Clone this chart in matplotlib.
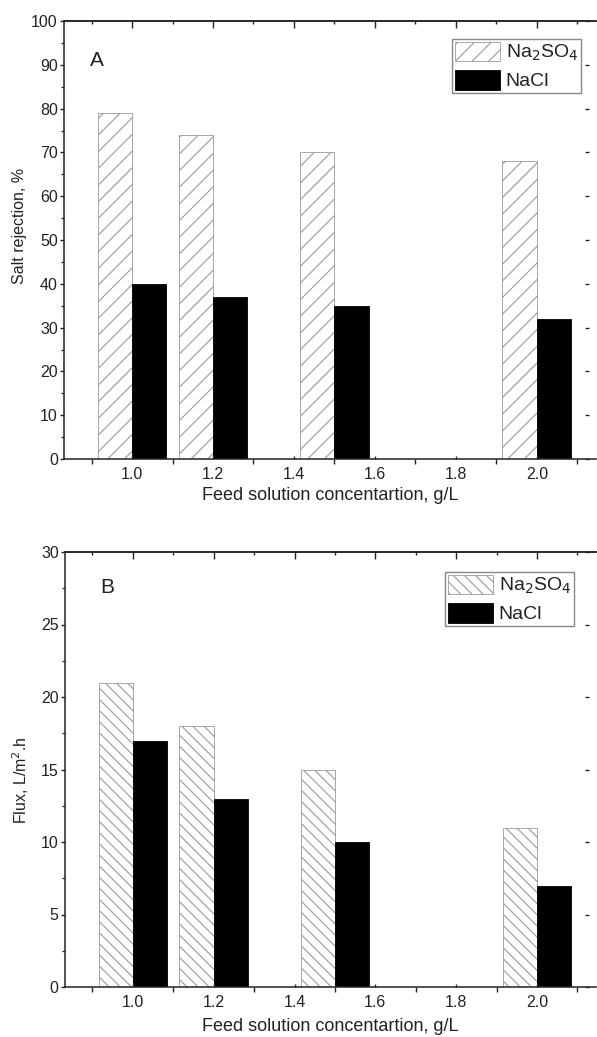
import matplotlib
matplotlib.use("Agg")
import matplotlib.pyplot as plt
from matplotlib.ticker import MultipleLocator, FixedLocator

plt.rcParams['font.family'] = ['Liberation Sans', 'DejaVu Sans']
plt.rcParams['hatch.linewidth'] = 0.8

# ---- data ----
conc = [1.0, 1.2, 1.5, 2.0]
rej_na2so4 = [79, 74, 70, 68]
rej_nacl = [40, 37, 35, 32]
flux_na2so4 = [21, 18, 15, 11]
flux_nacl = [17, 13, 10, 7]
xtick_vals = [1.0, 1.2, 1.4, 1.6, 1.8, 2.0]
xtick_labels = ["1.0", "1.2", "1.4", "1.6", "1.8", "2.0"]

W, H = 597, 1037
fig = plt.figure(figsize=(W / 100, H / 100), dpi=100)

TXT = '#222222'
BW = 0.085


def make_ax(l, r, t, b):
    return fig.add_axes([l / W, 1 - b / H, (r - l) / W, (b - t) / H])


def style(ax, ymax, ymaj, ymin_step, ylabel, ylab_pos, letter, letter_pos, hatch,
          leg_anchor, xlab_y, na2so4, nacl):
    ax.bar(conc, na2so4, width=-BW, align='edge', facecolor='white',
           edgecolor='#9a9a9a', linewidth=0.6, hatch=hatch, label='Na$_2$SO$_4$')
    ax.bar(conc, nacl, width=BW, align='edge', facecolor='black',
           edgecolor='black', linewidth=0.6, label='NaCl')
    ax.set_xlim(0.832, 2.146)
    ax.set_ylim(0, ymax)
    ax.xaxis.set_major_locator(FixedLocator(xtick_vals))
    ax.set_xticklabels(xtick_labels)
    ax.xaxis.set_minor_locator(MultipleLocator(0.2, offset=0.1))
    ax.yaxis.set_major_locator(MultipleLocator(ymaj))
    ax.yaxis.set_minor_locator(MultipleLocator(ymin_step))
    for s in ['left', 'bottom', 'top']:
        ax.spines[s].set_linewidth(1.1)
        ax.spines[s].set_color('#222222')
    ax.spines['right'].set_visible(False)
    ax.spines['right'].set_position(('axes', (585 - 64) / 532))
    ax.tick_params(axis='x', which='major', direction='in', length=2, width=1,
                   pad=5.5, labelsize=11.5, labelcolor=TXT, top=False, color='#222')
    ax.tick_params(axis='x', which='minor', direction='out', length=3.6, width=1,
                   top=False, color='#222')
    ax.tick_params(axis='y', which='major', direction='out', length=3, width=1,
                   pad=1.5, labelsize=11.5, labelcolor=TXT, right=True, color='#222')
    ax.tick_params(axis='y', which='minor', direction='out', length=2, width=0.9,
                   right=False, color='#222')
    # top axis ticks (inward)
    sec = ax.secondary_xaxis('top')
    sec.xaxis.set_major_locator(FixedLocator(xtick_vals))
    sec.xaxis.set_minor_locator(MultipleLocator(0.2, offset=0.1))
    sec.tick_params(axis='x', which='major', direction='in', length=5, width=1,
                    labeltop=False, color='#222')
    sec.tick_params(axis='x', which='minor', direction='in', length=2.2, width=1,
                    color='#222')
    sec.spines['top'].set_linewidth(1.1)
    sec.spines['top'].set_color('#222222')

    ax.set_xlabel('Feed solution concentartion, g/L', fontsize=13, color=TXT)
    ax.xaxis.set_label_coords(0.5, xlab_y, transform=ax.transAxes)
    ax.xaxis.label.set_va('top')
    ax.set_ylabel(ylabel, fontsize=11.5, color=TXT)
    ax.yaxis.set_label_coords(ylab_pos[0], ylab_pos[1], transform=ax.transAxes)
    ax.yaxis.label.set_va('center')
    ax.text(letter_pos[0], letter_pos[1], letter, transform=ax.transAxes,
            fontsize=15, color=TXT, ha='left', va='baseline')
    leg = ax.legend(loc='upper right', bbox_to_anchor=leg_anchor, fontsize=14,
                    handlelength=2.3, handleheight=1.15, labelspacing=0.35,
                    borderpad=0.15, handletextpad=0.3, borderaxespad=0,
                    fancybox=False, framealpha=1, edgecolor='#888888')
    leg.get_frame().set_linewidth(1.0)
    for txt in leg.get_texts():
        txt.set_color(TXT)


axA = make_ax(64, 596, 21, 459)
style(axA, 100, 10, 5, 'Salt rejection, %', (-0.083, (459 - 226) / 438),
      'A', (0.049, 0.897), '//',
      ((581 - 64) / 532, (459 - 39) / 438), -0.063, rej_na2so4, rej_nacl)

axB = make_ax(65, 596, 552, 987)
style(axB, 30, 5, 2.5, 'Flux, L/m$^2$.h', (-0.083, (987 - 780) / 435),
      'B', (0.066, 0.906), '\\\\\\',
      ((574 - 65) / 531, (987 - 572) / 435), -0.072, flux_na2so4, flux_nacl)

fig.savefig('out.png', dpi=100)
